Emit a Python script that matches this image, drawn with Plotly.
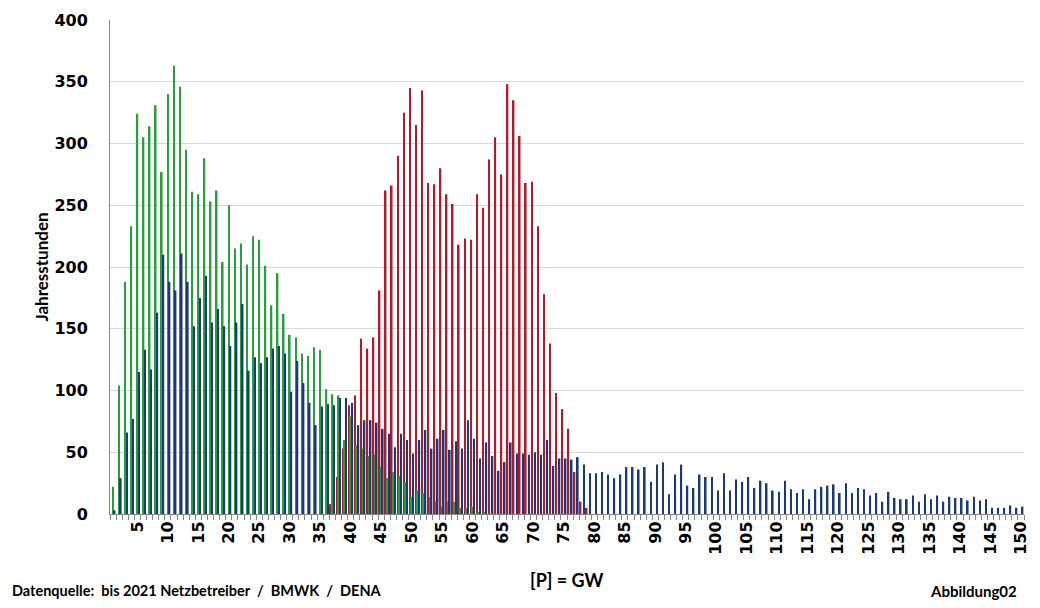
import plotly.graph_objects as go

# ---------------- data ----------------
gw = list(range(1, 151))  # categories [P] = GW

green_values = [22, 104, 188, 233, 324, 305, 314, 331, 277, 340,
                363, 346, 295, 261, 259, 288, 253, 262, 204, 250,
                215, 219, 202, 225, 222, 201, 169, 195, 162, 145,
                143, 130, 128, 135, 133, 101, 97, 96, 60, 79,
                56, 53, 47, 48, 38, 29, 34, 31, 26, 14,
                19, 17, 14, 10, 6, 10, 10, 5, 5, 6,
                1, 2]
green_start = 1

red_values = [8, 30, 53, 88, 96, 142, 134, 143, 181, 262,
              266, 290, 325, 345, 315, 343, 268, 267, 280, 259,
              251, 218, 223, 222, 259, 248, 287, 305, 275, 348,
              335, 306, 268, 269, 233, 178, 138, 98, 85, 69,
              34, 10, 5]
red_start = 37

navy_values = [3, 29, 66, 77, 115, 133, 117, 163, 210, 188,
               181, 211, 188, 152, 175, 193, 155, 166, 152, 136,
               155, 170, 116, 127, 122, 127, 134, 136, 130, 99,
               124, 106, 90, 72, 87, 89, 88, 94, 94, 90,
               72, 76, 76, 74, 69, 65, 54, 65, 60, 49,
               60, 68, 53, 61, 68, 52, 59, 53, 76, 61,
               45, 58, 47, 35, 42, 58, 49, 49, 48, 50,
               48, 60, 39, 45, 45, 44, 46, 40, 33, 33,
               34, 32, 29, 32, 38, 38, 36, 38, 26, 40,
               42, 16, 32, 40, 23, 21, 32, 30, 30, 19,
               33, 19, 28, 26, 30, 21, 27, 25, 19, 18,
               27, 20, 17, 20, 12, 20, 22, 23, 24, 17,
               25, 17, 21, 20, 15, 17, 10, 18, 13, 12,
               12, 15, 10, 16, 12, 15, 10, 14, 13, 13,
               11, 14, 11, 12, 5, 5, 5, 7, 5, 6]
navy_start = 1

y_ticks = [0, 50, 100, 150, 200, 250, 300, 350, 400]
x_ticks = [5, 10, 15, 20, 25, 30, 35, 40, 45, 50, 55, 60, 65, 70, 75,
           80, 85, 90, 95, 100, 105, 110, 115, 120, 125, 130, 135, 140, 145, 150]


def full_series(values, start):
    out = [None] * len(gw)
    for i, v in enumerate(values):
        out[start - 1 + i] = v
    return out


RED = "#b3192b"
GREEN = "#2a9d3c"
NAVY = "#183a78"

fig = go.Figure()
fig.add_trace(go.Bar(x=gw, y=full_series(red_values, red_start), marker_color=RED,
                     marker_line_width=0, name="rot"))
fig.add_trace(go.Bar(x=gw, y=full_series(green_values, green_start), marker_color=GREEN,
                     marker_line_width=0, name="grün"))
fig.add_trace(go.Bar(x=gw, y=full_series(navy_values, navy_start), marker_color=NAVY,
                     marker_line_width=0, name="blau"))

tickfont = dict(family="DejaVu Sans", size=16, color="black", weight="bold")
lato = "Lato, 'Open Sans', sans-serif"

fig.update_layout(
    width=1040, height=608,
    margin=dict(l=110, r=10, t=20, b=94),
    paper_bgcolor="white", plot_bgcolor="white",
    barmode="group", bargap=0.2, bargroupgap=0,
    showlegend=False,
    xaxis=dict(
        range=[0.5, 150.5],
        tickmode="array", tickvals=x_ticks, ticktext=[str(v) for v in x_ticks],
        tickangle=-90, tickfont=tickfont,
        ticks="", showgrid=False, zeroline=False,
        showline=True, linecolor="#868686", linewidth=1,
        minor=dict(tick0=0.5, dtick=1, ticks="outside", ticklen=5,
                   tickcolor="#868686", tickwidth=1, showgrid=False),
    ),
    yaxis=dict(
        range=[0, 400], tickmode="array", tickvals=y_ticks,
        tickfont=tickfont, ticks="", ticklabelstandoff=18,
        showgrid=True, gridcolor="#d9d9d9", gridwidth=1,
        zeroline=False, showline=True, linecolor="#868686", linewidth=1,
    ),
    annotations=[
        dict(text="<b>Jahresstunden</b>", xref="paper", yref="paper",
             x=-0.076, xanchor="center", y=0.5, yanchor="middle",
             textangle=-90, showarrow=False,
             font=dict(family=lato, size=17, color="black")),
        dict(text="<b>[P] = GW</b>", xref="paper", yref="paper",
             x=0.5, xanchor="center", y=-0.107, yanchor="top", showarrow=False,
             font=dict(family=lato, size=18, color="black")),
        dict(text="<b>Datenquelle:  bis 2021 Netzbetreiber  /  BMWK  /  DENA</b>",
             xref="paper", yref="paper", x=-0.109, xanchor="left",
             y=-0.134, yanchor="top", showarrow=False,
             font=dict(family=lato, size=14.5, color="black")),
        dict(text="<b>Abbildung02</b>", xref="paper", yref="paper",
             x=0.994, xanchor="right", y=-0.134, yanchor="top", showarrow=False,
             font=dict(family=lato, size=15, color="black")),
    ],
)

fig.write_html("out.html",
               config={"displayModeBar": False},
               post_script="document.body.style.margin='0';"
                           "document.body.style.overflow='hidden';")
